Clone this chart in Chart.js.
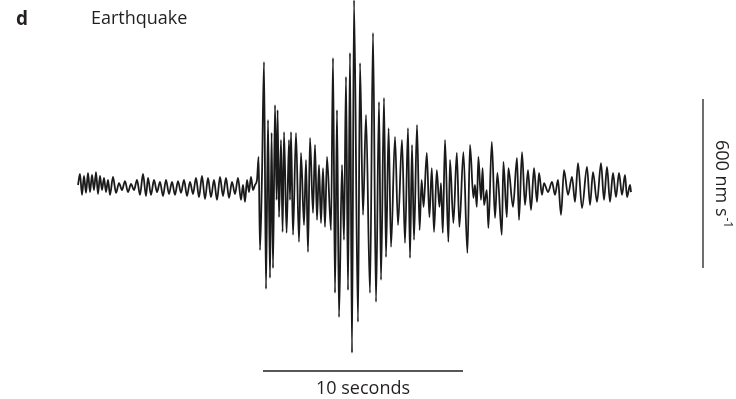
<!DOCTYPE html>
<html>
<head>
<meta charset="utf-8">
<script src="https://cdn.jsdelivr.net/npm/chart.js@4/dist/chart.umd.min.js"></script>
<style>
  html, body { margin: 0; padding: 0; background: #ffffff; }
  #wrap { width: 736px; height: 399px; position: relative; }
</style>
</head>
<body>
<div id="wrap"><canvas id="c" width="736" height="399"></canvas></div>
<script>
// Time (s) of each sample of the seismogram
const times = [
  0.00,0.10,0.20,0.30,0.40,0.50,0.60,0.70,0.80,0.90,1.00,1.10,1.20,1.30,1.40,1.50,1.60,1.75,1.90,2.05,
  2.20,2.35,2.50,2.65,2.80,2.95,3.10,3.25,3.40,3.50,3.65,3.80,3.95,4.10,4.25,4.40,4.55,4.70,4.85,5.00,
  5.15,5.30,5.45,5.60,5.75,5.90,6.05,6.20,6.35,6.50,6.65,6.80,6.95,7.10,7.25,7.40,7.55,7.70,7.85,8.00,
  8.15,8.25,8.35,8.45,8.55,8.65,8.75,8.85,
  8.95,9.03,9.10,9.20,9.30,9.40,9.50,9.60,9.68,9.75,9.85,9.93,9.98,10.05,10.15,10.23,10.30,10.43,10.55,10.60,
  10.65,10.75,10.90,11.05,11.15,11.30,11.40,11.50,11.60,11.75,11.85,11.95,12.05,12.15,12.25,12.35,12.45,12.65,
  12.75,12.85,12.95,13.05,13.20,13.30,13.40,13.50,13.60,13.70,13.80,14.00,14.10,14.25,14.40,14.60,14.75,14.90,
  15.05,15.15,15.30,15.40,15.53,15.65,15.85,16.00,16.20,16.35,16.50,16.60,16.70,16.80,16.95,17.08,17.18,17.28,
  17.44,17.57,17.69,17.80,17.94,18.07,18.15,18.24,18.35,18.52,18.60,18.77,18.94,19.07,19.27,19.47,19.60,19.77,
  19.85,19.94,20.02,20.15,20.23,20.30,20.44,20.52,20.69,20.85,20.97,21.19,21.27,21.44,21.52,21.75,21.95,22.05,
  22.20,22.35,22.50,22.65,22.80,22.95,23.05,23.20,23.30,23.50,23.70,23.85,24.00,24.15,24.30,24.50,24.70,24.85,
  25.00,25.20,25.45,25.60,25.75,25.95,26.15,26.30,26.45,26.60,26.75,26.90,27.05,27.20,27.35,27.45,27.60,27.65
];
// Ground velocity (nm/s) at each time
const velocity = [
  7,46,-28,39,-21,50,-18,43,-11,53,-25,39,-11,32,-18,25,-28,36,-21,14,
  -11,21,-18,11,-11,25,-28,46,-32,32,-28,25,-18,18,-32,25,-25,18,-28,21,
  -21,25,-32,18,-25,32,-36,39,-43,32,-36,25,-46,36,-32,32,-39,18,-25,32,
  -46,7,-53,25,-18,36,-11,7,
  25,107,-224,43,444,-362,238,-323,192,-288,291,-46,273,-107,167,-160,195,-163,167,-46,
  195,-170,192,-195,121,-135,96,-231,174,-92,149,-117,78,-128,67,-142,107,-153,
  458,-376,273,-462,78,-188,391,-366,476,-589,664,-479,440,-99,256,-376,547,-408,
  302,-330,316,-249,209,-213,178,-135,167,-199,209,-252,149,-188,220,-153,25,-71,
  121,-107,67,-160,60,-71,14,-163,167,-195,96,-128,121,-142,124,-234,149,-39,
  7,-71,107,-46,67,-64,-11,-146,160,-110,50,-170,89,-107,67,-71,103,-117,
  124,-64,60,-82,67,-53,50,-28,14,-18,18,-28,25,-99,60,-28,36,-53,
  85,-75,71,-64,53,-53,85,-46,71,-53,50,-36,50,-28,43,-36,7,-18
];
// Axis extents and scale bars
const timeRange = [0, 29];            // s
const velocityRange = [-753, 664];    // nm/s
const timeBar = [9.25, 10];           // start (s), length (s)
const velocityBar = [312, 600];       // top (nm/s), length (nm/s)
const panelLabel = 'd';
const titleText = 'Earthquake';
const timeBarLabel = '10 seconds';
const velocityBarLabel = ['600 nm s', '-1'];

const points = times.map((t, i) => ({ x: t, y: velocity[i] }));

const FONT = '"Open Sans", "Noto Sans", sans-serif';

const decor = {
  id: 'decor',
  afterDraw(chart) {
    const ctx = chart.ctx;
    const xs = chart.scales.x, ys = chart.scales.y;
    ctx.save();
    ctx.fillStyle = '#231f20';
    ctx.textBaseline = 'alphabetic';
    ctx.font = 'bold 19px ' + FONT;
    ctx.textAlign = 'left';
    ctx.fillText(panelLabel, 16, 25);
    ctx.font = '18px ' + FONT;
    ctx.fillText(titleText, 91, 24);

    // horizontal time bar
    const x0 = xs.getPixelForValue(timeBar[0]);
    const x1 = xs.getPixelForValue(timeBar[0] + timeBar[1]);
    ctx.strokeStyle = '#231f20';
    ctx.lineWidth = 1.3;
    ctx.beginPath();
    ctx.moveTo(x0, 371); ctx.lineTo(x1, 371);
    ctx.stroke();
    ctx.font = '18px ' + FONT;
    ctx.textAlign = 'center';
    ctx.fillText(timeBarLabel, (x0 + x1) / 2, 394);

    // vertical velocity bar
    const y0 = ys.getPixelForValue(velocityBar[0]);
    const y1 = ys.getPixelForValue(velocityBar[0] - velocityBar[1]);
    ctx.beginPath();
    ctx.moveTo(703, y0); ctx.lineTo(703, y1);
    ctx.stroke();

    ctx.translate(716, (y0 + y1) / 2);
    ctx.rotate(Math.PI / 2);
    ctx.font = '18px ' + FONT;
    const w1 = ctx.measureText(velocityBarLabel[0]).width;
    ctx.font = '12px ' + FONT;
    const w2 = ctx.measureText(velocityBarLabel[1]).width;
    const start = -(w1 + w2) / 2;
    ctx.textAlign = 'left';
    ctx.font = '18px ' + FONT;
    ctx.fillText(velocityBarLabel[0], start, 0);
    ctx.font = '12px ' + FONT;
    ctx.fillText(velocityBarLabel[1], start + w1 + 1, -8);
    ctx.restore();
  }
};

new Chart(document.getElementById('c'), {
  type: 'line',
  data: {
    datasets: [{
      data: points,
      borderColor: '#1a1a1a',
      borderWidth: 1.8,
      pointRadius: 0,
      fill: false,
      tension: 0.35,
      cubicInterpolationMode: 'monotone',
      clip: false
    }]
  },
  options: {
    responsive: false,
    animation: false,
    devicePixelRatio: 1,
    layout: { padding: { left: 78, right: 78, top: 0, bottom: 0 } },
    plugins: { legend: { display: false }, tooltip: { enabled: false } },
    scales: {
      x: { type: 'linear', display: false, min: timeRange[0], max: timeRange[1] },
      y: { type: 'linear', display: false, min: velocityRange[0], max: velocityRange[1] }
    }
  },
  plugins: [decor]
});
</script>
</body>
</html>
